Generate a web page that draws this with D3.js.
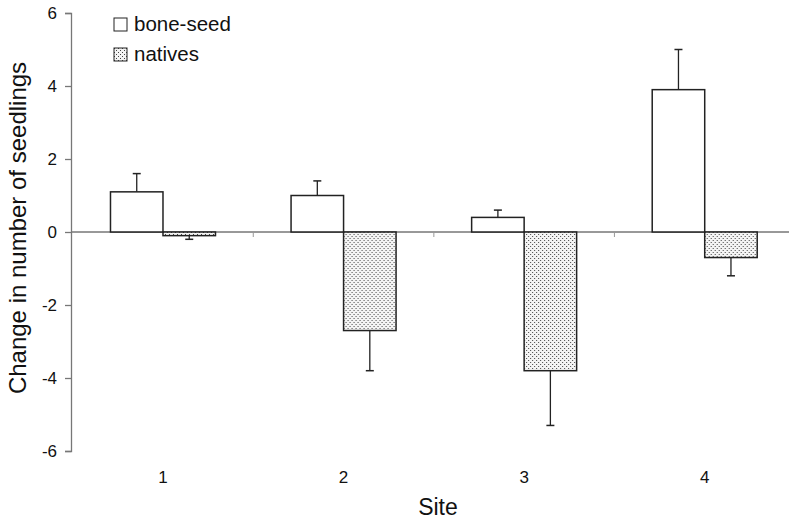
<!DOCTYPE html>
<html>
<head>
<meta charset="utf-8">
<script src="https://cdn.jsdelivr.net/npm/d3@7"></script>
<style>
  body { margin: 0; background: #fff; }
  text { font-family: "Liberation Sans", Arial, sans-serif; fill: #111; }
</style>
</head>
<body>
<div id="chart"></div>
<script>
const sites = ["1", "2", "3", "4"];
const seriesNames = ["bone-seed", "natives"];
const boneSeed = [1.1, 1.0, 0.4, 3.9];
const boneSeedErr = [0.5, 0.4, 0.2, 1.1];
const natives = [-0.1, -2.7, -3.8, -0.7];
const nativesErr = [0.1, 1.1, 1.5, 0.5];
const yTicks = [-6, -4, -2, 0, 2, 4, 6];

const width = 789, height = 519;
const margin = { left: 71, top: 13, right: -6, bottom: 68 };

const svg = d3.select("#chart").append("svg")
	.attr("width", width)
	.attr("height", height);

const defs = svg.append("defs");
const pat = defs.append("pattern")
	.attr("id", "dots")
	.attr("patternUnits", "userSpaceOnUse")
	.attr("width", 4).attr("height", 4);
pat.append("rect").attr("width", 4).attr("height", 4).attr("fill", "#f4f4f4");
pat.append("rect").attr("x", 0).attr("y", 0).attr("width", 1).attr("height", 1).attr("fill", "#444");
pat.append("rect").attr("x", 2).attr("y", 2).attr("width", 1).attr("height", 1).attr("fill", "#444");

const x = d3.scaleBand()
	.domain(sites)
	.range([margin.left + 1.7, width - margin.right])
	.padding(0);

const y = d3.scaleLinear()
	.domain([-6, 6])
	.range([height - margin.bottom, margin.top]);

const data = sites.map((s, i) => ({
	site: s,
	vals: [
		{ key: 0, v: boneSeed[i], e: boneSeedErr[i] },
		{ key: 1, v: natives[i], e: nativesErr[i] }
	]
}));

const barW = 52.5;
const fills = ["#fff", "url(#dots)"];

// zero line
svg.append("line")
	.attr("x1", margin.left).attr("x2", width)
	.attr("y1", y(0)).attr("y2", y(0))
	.attr("stroke", "#333").attr("stroke-width", 1);

// category separators on zero line
svg.selectAll("line.sep")
	.data(sites.slice(1))
	.enter()
		.append("line")
			.attr("class", "sep")
			.attr("x1", d => x(d)).attr("x2", d => x(d))
			.attr("y1", y(0)).attr("y2", y(0) + 5)
			.attr("stroke", "#999");

const groups = svg.selectAll("g.site")
	.data(data)
	.enter()
		.append("g")
			.attr("class", "site")
			.attr("transform", d => "translate(" + (x(d.site) + x.bandwidth() / 2) + ",0)");

// error bars (one-sided, away from zero)
groups.selectAll("g.err")
	.data(d => d.vals)
	.enter()
		.append("g")
			.attr("class", "err")
			.each(function(d) {
				const cx = d.key === 0 ? -barW / 2 : barW / 2;
				const end = d.v >= 0 ? d.v + d.e : d.v - d.e;
				const g = d3.select(this);
				g.append("line")
					.attr("x1", cx).attr("x2", cx)
					.attr("y1", y(d.v)).attr("y2", y(end))
					.attr("stroke", "#222").attr("stroke-width", 1.3);
				g.append("line")
					.attr("x1", cx - 4).attr("x2", cx + 4)
					.attr("y1", y(end)).attr("y2", y(end))
					.attr("stroke", "#222").attr("stroke-width", 1.5);
			});

groups.selectAll("rect.bar")
	.data(d => d.vals)
	.enter()
		.append("rect")
			.attr("class", "bar")
			.attr("x", d => d.key === 0 ? -barW : 0)
			.attr("width", barW)
			.attr("y", d => y(Math.max(0, d.v)))
			.attr("height", d => Math.abs(y(d.v) - y(0)))
			.attr("fill", d => fills[d.key])
			.attr("stroke", "#222")
			.attr("stroke-width", 1.5);

// y axis
const yAxis = svg.append("g")
	.attr("transform", "translate(" + margin.left + ",0)")
	.call(d3.axisLeft(y).tickValues(yTicks).tickSize(6).tickPadding(8)
		.tickFormat(d => String(d)));
yAxis.select(".domain").attr("stroke", "#777").attr("stroke-width", 1.3);
yAxis.selectAll(".tick line").attr("stroke", "#777").attr("stroke-width", 1.3);
yAxis.selectAll(".tick text")
	.attr("font-size", 17)
	.attr("font-family", "Liberation Sans, Arial, sans-serif")
	.attr("fill", "#111");

// x tick labels
svg.selectAll("text.xlab")
	.data(sites)
	.enter()
		.append("text")
			.attr("class", "xlab")
			.attr("x", d => x(d) + x.bandwidth() / 2)
			.attr("y", 483)
			.attr("text-anchor", "middle")
			.attr("font-size", 17)
			.text(d => d);

// axis titles
svg.append("text")
	.attr("x", 438)
	.attr("y", 515)
	.attr("text-anchor", "middle")
	.attr("font-size", 23)
	.text("Site");

svg.append("text")
	.attr("transform", "translate(26,228) rotate(-90)")
	.attr("text-anchor", "middle")
	.attr("font-size", 24)
	.text("Change in number of seedlings");

// legend
const legend = svg.selectAll("g.legend")
	.data(seriesNames)
	.enter()
		.append("g")
			.attr("class", "legend")
			.attr("transform", (d, i) => "translate(114," + (18 + i * 30) + ")");
legend.append("rect")
	.attr("width", 13).attr("height", 13)
	.attr("fill", (d, i) => fills[i])
	.attr("stroke", "#222").attr("stroke-width", 1);
legend.append("text")
	.attr("x", 20).attr("y", 13)
	.attr("font-size", 20.5)
	.text(d => d);
</script>
</body>
</html>
